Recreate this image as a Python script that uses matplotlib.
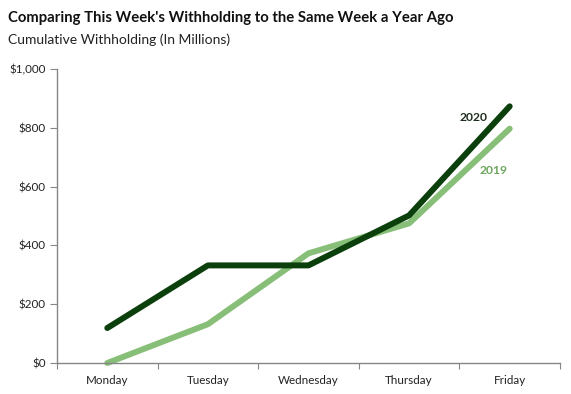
import matplotlib
matplotlib.use("Agg")
import matplotlib.pyplot as plt
from matplotlib.ticker import FuncFormatter, FixedLocator

days = ["Monday", "Tuesday", "Wednesday", "Thursday", "Friday"]
w2020 = [119, 332, 332, 502, 873]
w2019 = [0, 132, 373, 475, 797]
yticks = [0, 200, 400, 600, 800, 1000]

plt.rcParams['font.family'] = ['Lato', 'DejaVu Sans']

fig = plt.figure(figsize=(5.71, 3.94), dpi=100)
ax = fig.add_axes([57/571, 31/394, (560-57)/571, (363-69)/394])

x = list(range(len(days)))
c2020 = "#0B3F0B"
c2019 = "#88BF78"
ax.plot(x, w2019, color=c2019, lw=4.3, solid_capstyle="round", solid_joinstyle="round", clip_on=False, zorder=2)
ax.plot(x, w2020, color=c2020, lw=4.3, solid_capstyle="round", solid_joinstyle="round", clip_on=False, zorder=3)

ax.set_xlim(-0.5, 4.5)
ax.set_ylim(0, 1000)
ax.set_yticks(yticks)
ax.yaxis.set_major_formatter(FuncFormatter(lambda v, p: f"${v:,.0f}"))
ax.xaxis.set_major_locator(FixedLocator([i - 0.5 for i in range(len(days) + 1)]))
ax.xaxis.set_major_formatter(FuncFormatter(lambda v, p: ""))
ax.xaxis.set_minor_locator(FixedLocator(x))
ax.set_xticklabels(days, minor=True)
ax.tick_params(axis="x", which="minor", length=0, pad=9, labelsize=8.4, colors="#222222")
ax.tick_params(axis="x", which="major", length=4, color="#868686", direction="out")
ax.tick_params(axis="y", length=5, color="#868686", labelsize=8.4, labelcolor="#222222", pad=3)

for s in ["top", "right"]:
    ax.spines[s].set_visible(False)
for s in ["left", "bottom"]:
    ax.spines[s].set_color("#868686")
    ax.spines[s].set_linewidth(1)

ax.text(3.64, 835, "2020", color="#1E2E1E", fontsize=8.7, fontweight="bold", ha="center", va="center")
ax.text(3.84, 655, "2019", color="#6BA65C", fontsize=8.7, fontweight="bold", ha="center", va="center")

fig.text(8/571, 1 - 18/394, "Comparing This Week's Withholding to the Same Week a Year Ago",
         fontsize=10.7, fontweight="bold", ha="left", va="center", color="#111111")
fig.text(8/571, 1 - 40/394, "Cumulative Withholding (In Millions)",
         fontsize=10, ha="left", va="center", color="#222222")

fig.savefig("out.png", dpi=100)
